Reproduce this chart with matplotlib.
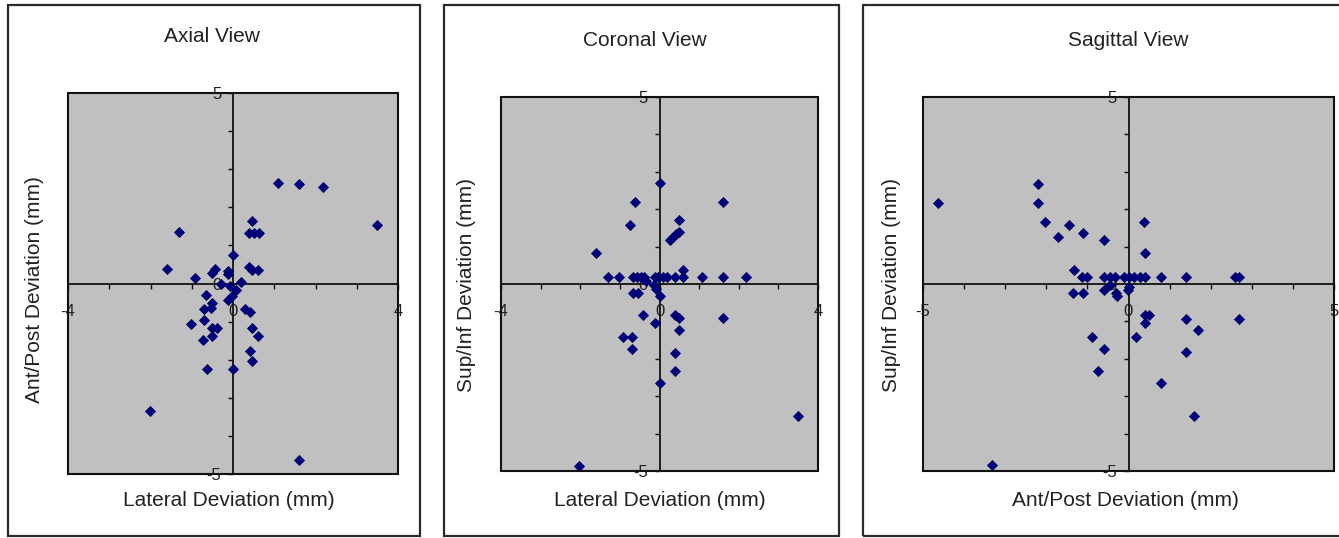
import matplotlib
matplotlib.use("Agg")
import matplotlib.pyplot as plt
from matplotlib.patches import Rectangle

plt.rcParams['font.family'] = ['Liberation Sans', 'DejaVu Sans']

# ---------------- data ----------------
axial_x = [1.09, 1.59, 2.19, 3.48, 0.47, 0.39, 0.51, 0.62, -1.30, 0.00, -1.60,
           0.39, 0.47, 0.61, -0.91, -0.43, -0.51, -0.11, -0.11, 0.20, -0.30,
           -0.08, 0.08, -0.65, -0.02, -0.12, -0.50, -0.71, -0.53, 0.30, 0.40,
           -1.03, -0.71, -0.50, -0.40, 0.47, 0.61, -0.51, -0.73, 0.40, 0.47,
           -0.62, 0.00, -2.02, 1.59]
axial_y = [2.65, 2.62, 2.52, 1.54, 1.63, 1.33, 1.33, 1.33, 1.34, 0.76, 0.38,
           0.44, 0.36, 0.36, 0.14, 0.38, 0.27, 0.33, 0.24, 0.05, -0.02,
           -0.06, -0.17, -0.30, -0.32, -0.43, -0.52, -0.67, -0.64, -0.67, -0.74,
           -1.05, -0.97, -1.16, -1.16, -1.16, -1.37, -1.37, -1.48, -1.76, -2.03,
           -2.25, -2.25, -3.35, -4.64]

coronal_x = [0.00, -0.63, 1.60, -0.74, 0.49, 0.50, 0.42, 0.34, 0.27, -1.60,
             -1.31, -1.01, -0.66, -0.56, -0.46, -0.38, -0.11, -0.03, 0.08, 0.19,
             0.40, 0.59, 1.07, 1.60, 2.19, 0.59, -0.35, -0.13, -0.08, -0.66,
             -0.53, 0.02, -0.42, -0.11, 0.40, 0.48, 1.60, 0.48, -0.91, -0.69,
             -0.69, 0.40, 0.40, 0.00, 3.49, -2.02]
coronal_y = [2.69, 2.18, 2.18, 1.59, 1.71, 1.40, 1.33, 1.25, 1.17, 0.84,
             0.19, 0.19, 0.19, 0.19, 0.19, 0.19, 0.19, 0.19, 0.19, 0.19,
             0.19, 0.19, 0.19, 0.19, 0.19, 0.38, 0.08, -0.04, -0.13, -0.23,
             -0.23, -0.32, -0.82, -1.04, -0.82, -0.91, -0.92, -1.23, -1.43, -1.43,
             -1.74, -1.84, -2.33, -2.65, -3.54, -4.87]

sagittal_x = [-4.63, -2.20, -2.20, -2.02, -1.44, -1.72, -1.11, -0.59, 0.38, 0.41,
              -1.33, -1.14, -1.02, -0.59, -0.46, -0.33, -0.12, 0.00, 0.14, 0.28,
              0.41, 0.79, 1.40, 2.59, 2.70, -0.45, 0.00, -1.34, -1.11, -0.59,
              -0.30, -0.28, -0.02, 0.49, 0.41, 0.39, 1.40, 2.68, 1.69, -0.89,
              0.18, -0.59, 1.40, -0.73, 0.79, 1.59, -3.33]
sagittal_y = [2.17, 2.67, 2.17, 1.67, 1.58, 1.27, 1.37, 1.18, 1.67, 0.83,
              0.38, 0.18, 0.18, 0.18, 0.18, 0.18, 0.18, 0.18, 0.18, 0.18,
              0.18, 0.18, 0.18, 0.18, 0.18, -0.02, -0.09, -0.24, -0.24, -0.16,
              -0.24, -0.33, -0.15, -0.82, -0.82, -1.03, -0.93, -0.93, -1.23, -1.43,
              -1.43, -1.73, -1.83, -2.33, -2.64, -3.53, -4.85]

titles = ["Axial View", "Coronal View", "Sagittal View"]
xlabels = ["Lateral Deviation (mm)", "Lateral Deviation (mm)", "Ant/Post Deviation (mm)"]
ylabels = ["Ant/Post Deviation (mm)", "Sup/Inf Deviation (mm)", "Sup/Inf Deviation (mm)"]
x_major = [[-4, 0, 4], [-4, 0, 4], [-5, 0, 5]]
y_major = [[-5, 0, 5], [-5, 0, 5], [-5, 0, 5]]

# ---------------- layout (pixels) ----------------
W, H = 1339, 538
fig = plt.figure(figsize=(W / 100, H / 100), dpi=100)
fig.patch.set_facecolor('white')

def fx(px):
    return px / W

def fy(py):
    return 1 - py / H

boxes = [(8, 5, 420, 536), (444, 5, 839, 536), (863, 5, 1350, 536)]
plots = [(68, 93, 398, 474), (501, 97, 818, 471), (923, 97, 1334, 471)]
title_pos = [(212, 36), (645, 40), (1128, 40)]
xlab_pos = [(229, 500), (660, 500), (1125, 500)]
ylab_pos = [(35, 290), (467, 285), (892, 285)]

datasets = [(axial_x, axial_y), (coronal_x, coronal_y), (sagittal_x, sagittal_y)]
txtc = '#222222'

for i in range(3):
    bl, bt, br, bb = boxes[i]
    fig.patches.append(Rectangle((fx(bl), fy(bb)), fx(br - bl), (bb - bt) / H,
                                 transform=fig.transFigure, fill=False,
                                 edgecolor='#2a2a2a', linewidth=1.6, zorder=0))
    l, t, r, b = plots[i]
    ax = fig.add_axes([fx(l), fy(b), fx(r - l), (b - t) / H])
    ax.set_facecolor('#c0c0c0')
    xs, ys = datasets[i]
    xm = x_major[i]
    ym = y_major[i]
    ax.set_xlim(xm[0], xm[-1])
    ax.set_ylim(ym[0], ym[-1])
    for s in ['top', 'right']:
        ax.spines[s].set_visible(False)
    ax.spines['left'].set_position(('data', 0))
    ax.spines['bottom'].set_position(('data', 0))
    ax.spines['left'].set_linewidth(1.3)
    ax.spines['bottom'].set_linewidth(1.3)
    ax.spines['left'].set_color('#111111')
    ax.spines['bottom'].set_color('#111111')
    ax.add_patch(Rectangle((0, 0), 1, 1, transform=ax.transAxes, fill=False,
                           edgecolor='#111111', linewidth=1.5, clip_on=False, zorder=5))
    ax.set_xticks(xm)
    ax.set_yticks(ym)
    ax.set_xticks(list(range(xm[0], xm[-1] + 1)), minor=True)
    ax.set_yticks(list(range(ym[0], ym[-1] + 1)), minor=True)
    ax.tick_params(axis='both', which='both', direction='out', length=3.5,
                   width=1, color='#111111', labelsize=12, labelcolor=txtc)
    ax.tick_params(axis='x', which='major', pad=11)
    ax.tick_params(axis='y', which='major', pad=5)
    ax.set_xticklabels([str(v) for v in xm])
    ax.set_yticklabels([str(v) for v in ym])
    ax.plot(xs, ys, linestyle='none', marker='D', markersize=4.6,
            color='#000080', markeredgecolor='#00005a', markeredgewidth=0.6,
            clip_on=False, zorder=4)

    tx, ty = title_pos[i]
    fig.text(fx(tx), fy(ty), titles[i], ha='center', va='center', fontsize=15, color=txtc)
    lx, ly = xlab_pos[i]
    fig.text(fx(lx), fy(ly), xlabels[i], ha='center', va='center', fontsize=15, color=txtc)
    yx, yy = ylab_pos[i]
    fig.text(fx(yx), fy(yy), ylabels[i], ha='center', va='center', fontsize=15,
             rotation=90, color=txtc)

fig.savefig('out.png', dpi=100)
